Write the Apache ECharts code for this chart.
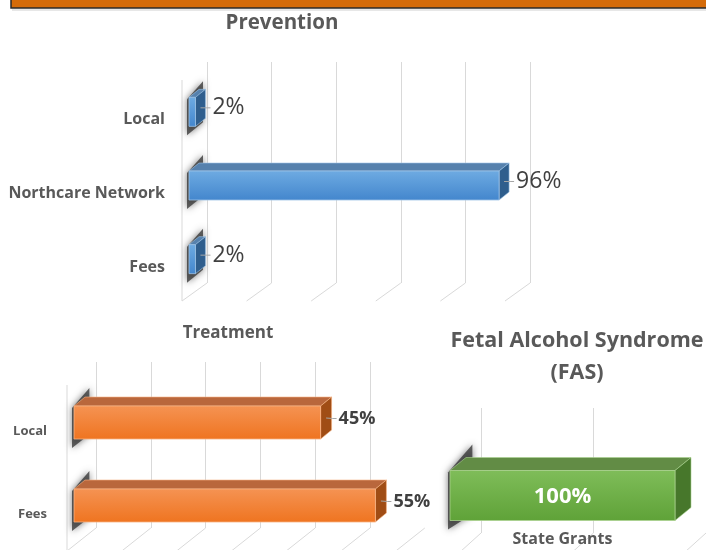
<!DOCTYPE html>
<html>
<head>
<meta charset="utf-8">
<script src="https://cdn.jsdelivr.net/npm/echarts@6/dist/echarts.min.js"></script>
<style>
  html, body { margin: 0; padding: 0; background: #fff; }
  #chart { width: 706px; height: 550px; }
</style>
</head>
<body>
<div id="chart"></div>
<script>
// Prevention
var preventionCats = ['Local', 'Northcare Network', 'Fees']
var preventionValues = [2, 96, 2]
var preventionTicks = [0, 20, 40, 60, 80, 100]
// Treatment
var treatmentCats = ['Local', 'Fees']
var treatmentValues = [45, 55]
var treatmentTicks = [0, 10, 20, 30, 40, 50, 60]
// Fetal Alcohol Syndrome (FAS)
var fasCats = ['State Grants']
var fasValues = [100]
var fasTicks = [0, 50, 100]

var FONT = '"Open Sans", Lato, sans-serif'
var LABEL_GRAY = '#595959'
var DATA_GRAY = '#404040'
var GRID_GRAY = '#d9d9d9'

// look of each 3d panel (pixels only, no data)
var panels = [
  {
    cats: preventionCats, values: preventionValues, ticks: preventionTicks,
    grid: { left: 207, top: 62, width: 323, height: 221 },
    wall: [-25, 18], front: [-18, 13], depth: [10, -8], barH: 29, showFront: true, showMax: true,
    colors: { f1: '#6eabe2', f2: '#4386cd', top: '#5681ad', side: '#2f5e8d', edge: '#9ec4e7' },
    catLabel: { right: 165, dy: 21, size: 16 },
    dataLabel: { size: 23, weight: 'normal', color: DATA_GRAY, inside: false }
  },
  {
    cats: treatmentCats, values: treatmentValues, ticks: treatmentTicks,
    grid: { left: 96, top: 362, width: 328.8, height: 166 },
    wall: [-29, 23], front: [-22, 19], depth: [11, -9], barH: 33, showFront: true, showMax: false,
    colors: { f1: '#f59353', f2: '#ef7420', top: '#b9673c', side: '#a04d15', edge: '#f7b383' },
    catLabel: { right: 47, dy: 28, size: 13 },
    dataLabel: { size: 18, weight: 'bold', color: DATA_GRAY, inside: false }
  },
  {
    cats: fasCats, values: fasValues, ticks: fasTicks,
    grid: { left: 481, top: 408, width: 232, height: 125 },
    wall: [-21, 19], front: [-31, 25], depth: [16, -13], barH: 50, showFront: false, showMax: true,
    colors: { f1: '#7fbd59', f2: '#5fa238', top: '#628c45', side: '#47772b', edge: '#a9d18e' },
    catLabel: { below: 19, size: 16 },
    dataLabel: { size: 22, weight: 'bold', color: '#ffffff', inside: true }
  }
]

function boxRenderer(p) {
  return function (params, api) {
    var v = api.value(0)
    var c = api.value(1)
    var b0 = api.coord([0, c])
    var b1 = api.coord([v, c])
    var ddx = p.depth[0], ddy = p.depth[1]
    var x0 = b0[0] + p.front[0]
    var x1 = b1[0] + p.front[0]
    var cy = b0[1] + p.front[1]
    var top = cy - p.barH / 2
    var bot = cy + p.barH / 2
    var col = p.colors
    var children = [
      // shadow on the side wall
      {
        type: 'polygon',
        shape: { points: [[x0 - 2, top + 2], [x0 + ddx * 1.4, top + ddy * 2], [x0 + ddx * 1.4, bot + ddy * 0.5], [x0 - 2, bot + 9]] },
        style: { fill: 'rgba(50,50,50,0.75)', shadowBlur: 7, shadowColor: 'rgba(0,0,0,0.7)' }
      },
      {
        type: 'polygon',
        shape: { points: [[x0, top], [x0 + ddx, top + ddy], [x1 + ddx, top + ddy], [x1, top]] },
        style: { fill: col.top, stroke: col.edge, lineWidth: 0.6 }
      },
      {
        type: 'polygon',
        shape: { points: [[x1, top], [x1 + ddx, top + ddy], [x1 + ddx, bot + ddy], [x1, bot]] },
        style: { fill: col.side, stroke: col.edge, lineWidth: 0.6 }
      },
      {
        type: 'rect',
        shape: { x: x0, y: top, width: x1 - x0, height: bot - top },
        style: {
          fill: new echarts.graphic.LinearGradient(0, 0, 0, 1, [
            { offset: 0, color: col.f1 },
            { offset: 1, color: col.f2 }
          ]),
          stroke: col.edge, lineWidth: 0.8
        }
      }
    ]
    var dl = p.dataLabel
    var txt = v + '%'
    if (dl.inside) {
      children.push({
        type: 'text',
        style: { text: txt, x: (x0 + x1) / 2, y: cy + 1, align: 'center', verticalAlign: 'middle',
          fill: dl.color, fontSize: dl.size, fontWeight: dl.weight, fontFamily: FONT }
      })
    } else {
      var lx = x1 + ddx + 7
      var ly = cy - 4
      children.push({
        type: 'polyline',
        shape: { points: [[x1 + ddx / 2, cy + ddy / 2], [x1 + ddx + 1, ly], [lx - 2, ly]] },
        style: { stroke: '#a6a6a6', lineWidth: 1, fill: null }
      })
      children.push({
        type: 'text',
        style: { text: txt, x: lx, y: ly, align: 'left', verticalAlign: 'middle',
          fill: dl.color, fontSize: dl.size, fontWeight: dl.weight, fontFamily: FONT }
      })
    }
    var cl = p.catLabel
    var name = p.cats[c]
    if (cl.below) {
      children.push({
        type: 'text',
        style: { text: name, x: (x0 + x1) / 2, y: bot + cl.below, align: 'center', verticalAlign: 'middle',
          fill: LABEL_GRAY, fontSize: cl.size, fontWeight: 'bold', fontFamily: FONT }
      })
    } else {
      children.push({
        type: 'text',
        style: { text: name, x: cl.right, y: b0[1] + cl.dy, align: 'right', verticalAlign: 'middle',
          fill: LABEL_GRAY, fontSize: cl.size, fontWeight: 'bold', fontFamily: FONT }
      })
    }
    return { type: 'group', children: children }
  }
}

// floor lines and the front edge of the side wall
function floorRenderer(p) {
  return function (params, api) {
    var cs = params.coordSys
    var t = api.value(0)
    var x = api.coord([t, 0])[0]
    var bottom = cs.y + cs.height
    var children = [{
      type: 'line',
      shape: { x1: x, y1: bottom, x2: x + p.wall[0], y2: bottom + p.wall[1] },
      style: { stroke: GRID_GRAY, lineWidth: 1 }
    }]
    if (t === 0 && p.showFront) {
      children.push({
        type: 'line',
        shape: { x1: x + p.wall[0], y1: cs.y + p.wall[1], x2: x + p.wall[0], y2: bottom + p.wall[1] },
        style: { stroke: GRID_GRAY, lineWidth: 1 }
      })
    }
    return { type: 'group', children: children }
  }
}

var grids = [], xAxes = [], yAxes = [], series = []
panels.forEach(function (p, i) {
  grids.push(p.grid)
  var ticks = p.ticks
  xAxes.push({
    type: 'value', gridIndex: i, min: ticks[0], max: ticks[ticks.length - 1], interval: ticks[1] - ticks[0],
    axisLine: { show: false }, axisTick: { show: false }, axisLabel: { show: false },
    splitLine: { show: true, showMaxLine: p.showMax, lineStyle: { color: GRID_GRAY, width: 1 } }
  })
  yAxes.push({
    type: 'category', gridIndex: i, data: p.cats, inverse: true,
    axisLine: { show: false }, axisTick: { show: false }, axisLabel: { show: false }, splitLine: { show: false }
  })
  series.push({
    type: 'custom', xAxisIndex: i, yAxisIndex: i, silent: true, z: 1,
    renderItem: floorRenderer(p),
    data: ticks.map(function (t) { return [t, 0] })
  })
  series.push({
    type: 'custom', xAxisIndex: i, yAxisIndex: i, z: 5,
    renderItem: boxRenderer(p),
    data: p.values.map(function (v, k) { return [v, k] })
  })
})

var chart = echarts.init(document.getElementById('chart'))
chart.setOption({
  animation: false,
  backgroundColor: '#ffffff',
  title: [
    { text: 'Prevention', left: 282, top: 13, textAlign: 'center', padding: 0,
      textStyle: { fontSize: 20.5, fontWeight: 'bold', color: LABEL_GRAY, fontFamily: FONT } },
    { text: 'Treatment', left: 228, top: 325, textAlign: 'center', padding: 0,
      textStyle: { fontSize: 17, fontWeight: 'bold', color: LABEL_GRAY, fontFamily: FONT } },
    { text: 'Fetal Alcohol Syndrome\n(FAS)', left: 577, top: 325, textAlign: 'center', padding: 0,
      textStyle: { fontSize: 21.5, fontWeight: 'bold', color: LABEL_GRAY, fontFamily: FONT, lineHeight: 32 } }
  ],
  graphic: [
    { type: 'rect', shape: { x: 11, y: -3, width: 700, height: 11 },
      style: { fill: '#d46b0a', stroke: '#2a2a2a', lineWidth: 1.5 } },
    { type: 'line', shape: { x1: 12, y1: 10, x2: 706, y2: 10 },
      style: { stroke: '#cfcfcf', lineWidth: 1 } }
  ],
  grid: grids,
  xAxis: xAxes,
  yAxis: yAxes,
  series: series
})
</script>
</body>
</html>
